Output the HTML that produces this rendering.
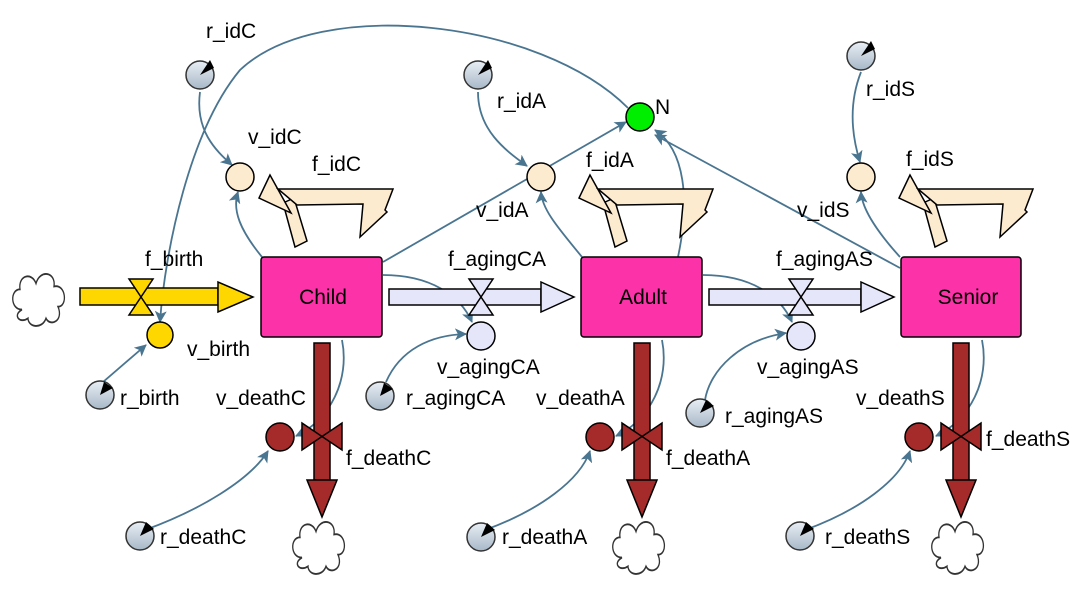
<!DOCTYPE html>
<html><head><meta charset="utf-8"><style>
html,body{margin:0;padding:0;background:#fff}
text{font-family:"Liberation Sans",Arial,sans-serif;font-size:21px;fill:#000}
</style></head><body>
<svg width="1090" height="592" viewBox="0 0 1090 592" xmlns="http://www.w3.org/2000/svg">
<defs>
<marker id="ar" markerWidth="12" markerHeight="12" refX="11" refY="6" orient="auto" markerUnits="userSpaceOnUse" viewBox="0 0 12 12"><path d="M0,0 L12,6 L0,12 L3,6 z" fill="#4a7590"/></marker>
<linearGradient id="rg" x1="0" y1="0" x2="0" y2="1"><stop offset="0" stop-color="#e8eef4"/><stop offset="1" stop-color="#a8b8c8"/></linearGradient>
<g id="cloud"><path transform="scale(1,1.45)" d="M-18,8 C-30,8 -30,-6 -20,-6 C-22,-16 -8,-18 -4,-10 C0,-20 16,-18 14,-8 C26,-10 28,6 18,6 C24,16 10,20 6,14 C2,22 -12,20 -12,14 C-20,18 -28,12 -18,8 z" fill="#fff" stroke="#333" stroke-width="1.3"/></g>
<g id="rc"><circle r="14" fill="url(#rg)" stroke="#333" stroke-width="1.5"/></g>
<g id="fid">
<polygon points="283,203 294,198 307,241 295,247" fill="#fdebd0" stroke="#000" stroke-width="1.5"/>
<polygon points="270,175 259,198 291,213" fill="#fdebd0" stroke="#000" stroke-width="1.5"/>
<polygon points="278,189 393,189 385,210 387,212 360,237 363,204 297,205" fill="#fdebd0" stroke="#000" stroke-width="1.5"/>
</g>
<g id="death">
<rect x="-8" y="343" width="16" height="137" fill="#a52a2a" stroke="#000" stroke-width="1.5"/>
<polygon points="-15,480 15,480 0,517" fill="#a52a2a" stroke="#000" stroke-width="1.5"/>
<polygon points="-20,423 20,450 20,423 -20,450" fill="#a52a2a" stroke="#000" stroke-width="1.5"/>
<circle cx="-42" cy="437" r="14" fill="#a52a2a" stroke="#000" stroke-width="1.5"/>
<use href="#cloud" x="-2" y="546"/>
</g>
<g id="lav">
<rect x="0" y="289" width="152" height="16" fill="#e6e6fa" stroke="#000" stroke-width="1.5"/>
<polygon points="152,282 152,312 185,297" fill="#e6e6fa" stroke="#000" stroke-width="1.5"/>
<polygon points="80,279 104,279 80,315 104,315" fill="#e6e6fa" stroke="#000" stroke-width="1.5"/>
<circle cx="92" cy="336" r="14" fill="#e6e6fa" stroke="#000" stroke-width="1.5"/>
</g>
</defs>

<g fill="none" stroke="#4a7590" stroke-width="1.8" marker-end="url(#ar)">
<path d="M628,108 C540,20 320,-5 240,70 C190,130 165,250 160,322"/>
<path d="M383,262 L626,122"/>
<path d="M900,268 L655,135"/>
<path d="M678,257 C690,200 685,150 655,130"/>
<path d="M200,92 C195,130 215,150 232,165"/>
<path d="M478,92 C478,130 505,150 527,166"/>
<path d="M861,72 C850,100 850,130 860,162"/>
<path d="M262,257 C240,230 232,210 238,192"/>
<path d="M582,257 C560,230 542,210 541,192"/>
<path d="M900,257 C880,235 862,210 861,192"/>
<path d="M383,275 C430,275 460,295 472,322"/>
<path d="M703,275 C750,275 780,295 792,322"/>
<path d="M342,340 C350,380 330,420 296,436"/>
<path d="M662,340 C670,380 650,420 616,436"/>
<path d="M982,340 C990,380 970,420 936,436"/>
<path d="M103,382 L146,345"/>
<path d="M386,382 C400,350 430,335 466,334"/>
<path d="M705,400 C710,370 740,340 786,333"/>
<path d="M145,530 C200,510 250,480 268,451"/>
<path d="M485,530 C540,510 580,480 590,451"/>
<path d="M805,530 C860,510 900,480 910,451"/>
</g>

<use href="#cloud" x="40" y="298"/>

<rect x="80" y="288" width="138" height="17" fill="#ffd700" stroke="#000" stroke-width="1.5"/>
<polygon points="218,282 218,312 253,297" fill="#ffd700" stroke="#000" stroke-width="1.5"/>
<polygon points="129,279 153,279 129,315 153,315" fill="#ffd700" stroke="#000" stroke-width="1.5"/>
<circle cx="160" cy="335" r="13" fill="#ffd700" stroke="#000" stroke-width="1.5"/>

<use href="#lav" x="389" y="0"/>
<use href="#lav" x="709" y="0"/>

<use href="#fid"/>
<use href="#fid" x="320"/>
<use href="#fid" x="640"/>

<use href="#death" x="322"/>
<use href="#death" x="642"/>
<use href="#death" x="961"/>

<rect x="261" y="257" width="121" height="80" rx="3" fill="#fb32a8" stroke="#000" stroke-width="1.5"/>
<rect x="581" y="257" width="121" height="80" rx="3" fill="#fb32a8" stroke="#000" stroke-width="1.5"/>
<rect x="901" y="257" width="120" height="80" rx="3" fill="#fb32a8" stroke="#000" stroke-width="1.5"/>
<text x="323" y="304" text-anchor="middle">Child</text>
<text x="643" y="304" text-anchor="middle">Adult</text>
<text x="968" y="304" text-anchor="middle">Senior</text>

<circle cx="240" cy="177" r="14" fill="#fdebd0" stroke="#000" stroke-width="1.5"/>
<circle cx="541" cy="177" r="14" fill="#fdebd0" stroke="#000" stroke-width="1.5"/>
<circle cx="861" cy="177" r="14" fill="#fdebd0" stroke="#000" stroke-width="1.5"/>
<circle cx="640" cy="117" r="14" fill="#00ee00" stroke="#000" stroke-width="1.5"/>

<g>
<use href="#rc" x="200" y="75"/><use href="#rc" x="478" y="75"/><use href="#rc" x="861" y="56"/>
<use href="#rc" x="100" y="395"/><use href="#rc" x="380" y="396"/><use href="#rc" x="700" y="413"/>
<use href="#rc" x="140" y="536"/><use href="#rc" x="481" y="537"/><use href="#rc" x="800" y="536"/>
</g>
<g fill="#000">
<polygon points="200,75 210,60 214,68" /><polygon points="478,75 488,60 492,68"/><polygon points="861,56 871,41 875,49"/>
<polygon points="100,395 104,382 113,388"/><polygon points="380,396 384,383 393,389"/><polygon points="700,413 706,400 714,406"/>
<polygon points="140,536 146,522 154,529"/><polygon points="481,537 487,523 495,530"/><polygon points="800,536 806,522 814,529"/>
</g>

<text x="206" y="38">r_idC</text>
<text x="248" y="144">v_idC</text>
<text x="312" y="171">f_idC</text>
<text x="497" y="108">r_idA</text>
<text x="655" y="114">N</text>
<text x="586" y="167">f_idA</text>
<text x="476" y="217">v_idA</text>
<text x="866" y="96">r_idS</text>
<text x="906" y="166">f_idS</text>
<text x="797" y="217">v_idS</text>
<text x="145" y="266">f_birth</text>
<text x="187" y="356">v_birth</text>
<text x="120" y="405">r_birth</text>
<text x="216" y="405">v_deathC</text>
<text x="346" y="465">f_deathC</text>
<text x="160" y="544">r_deathC</text>
<text x="448" y="266">f_agingCA</text>
<text x="437" y="374">v_agingCA</text>
<text x="406" y="405">r_agingCA</text>
<text x="536" y="405">v_deathA</text>
<text x="666" y="465">f_deathA</text>
<text x="502" y="544">r_deathA</text>
<text x="776" y="266">f_agingAS</text>
<text x="757" y="374">v_agingAS</text>
<text x="725" y="423">r_agingAS</text>
<text x="856" y="405">v_deathS</text>
<text x="986" y="446">f_deathS</text>
<text x="825" y="544">r_deathS</text>
</svg>
</body></html>
